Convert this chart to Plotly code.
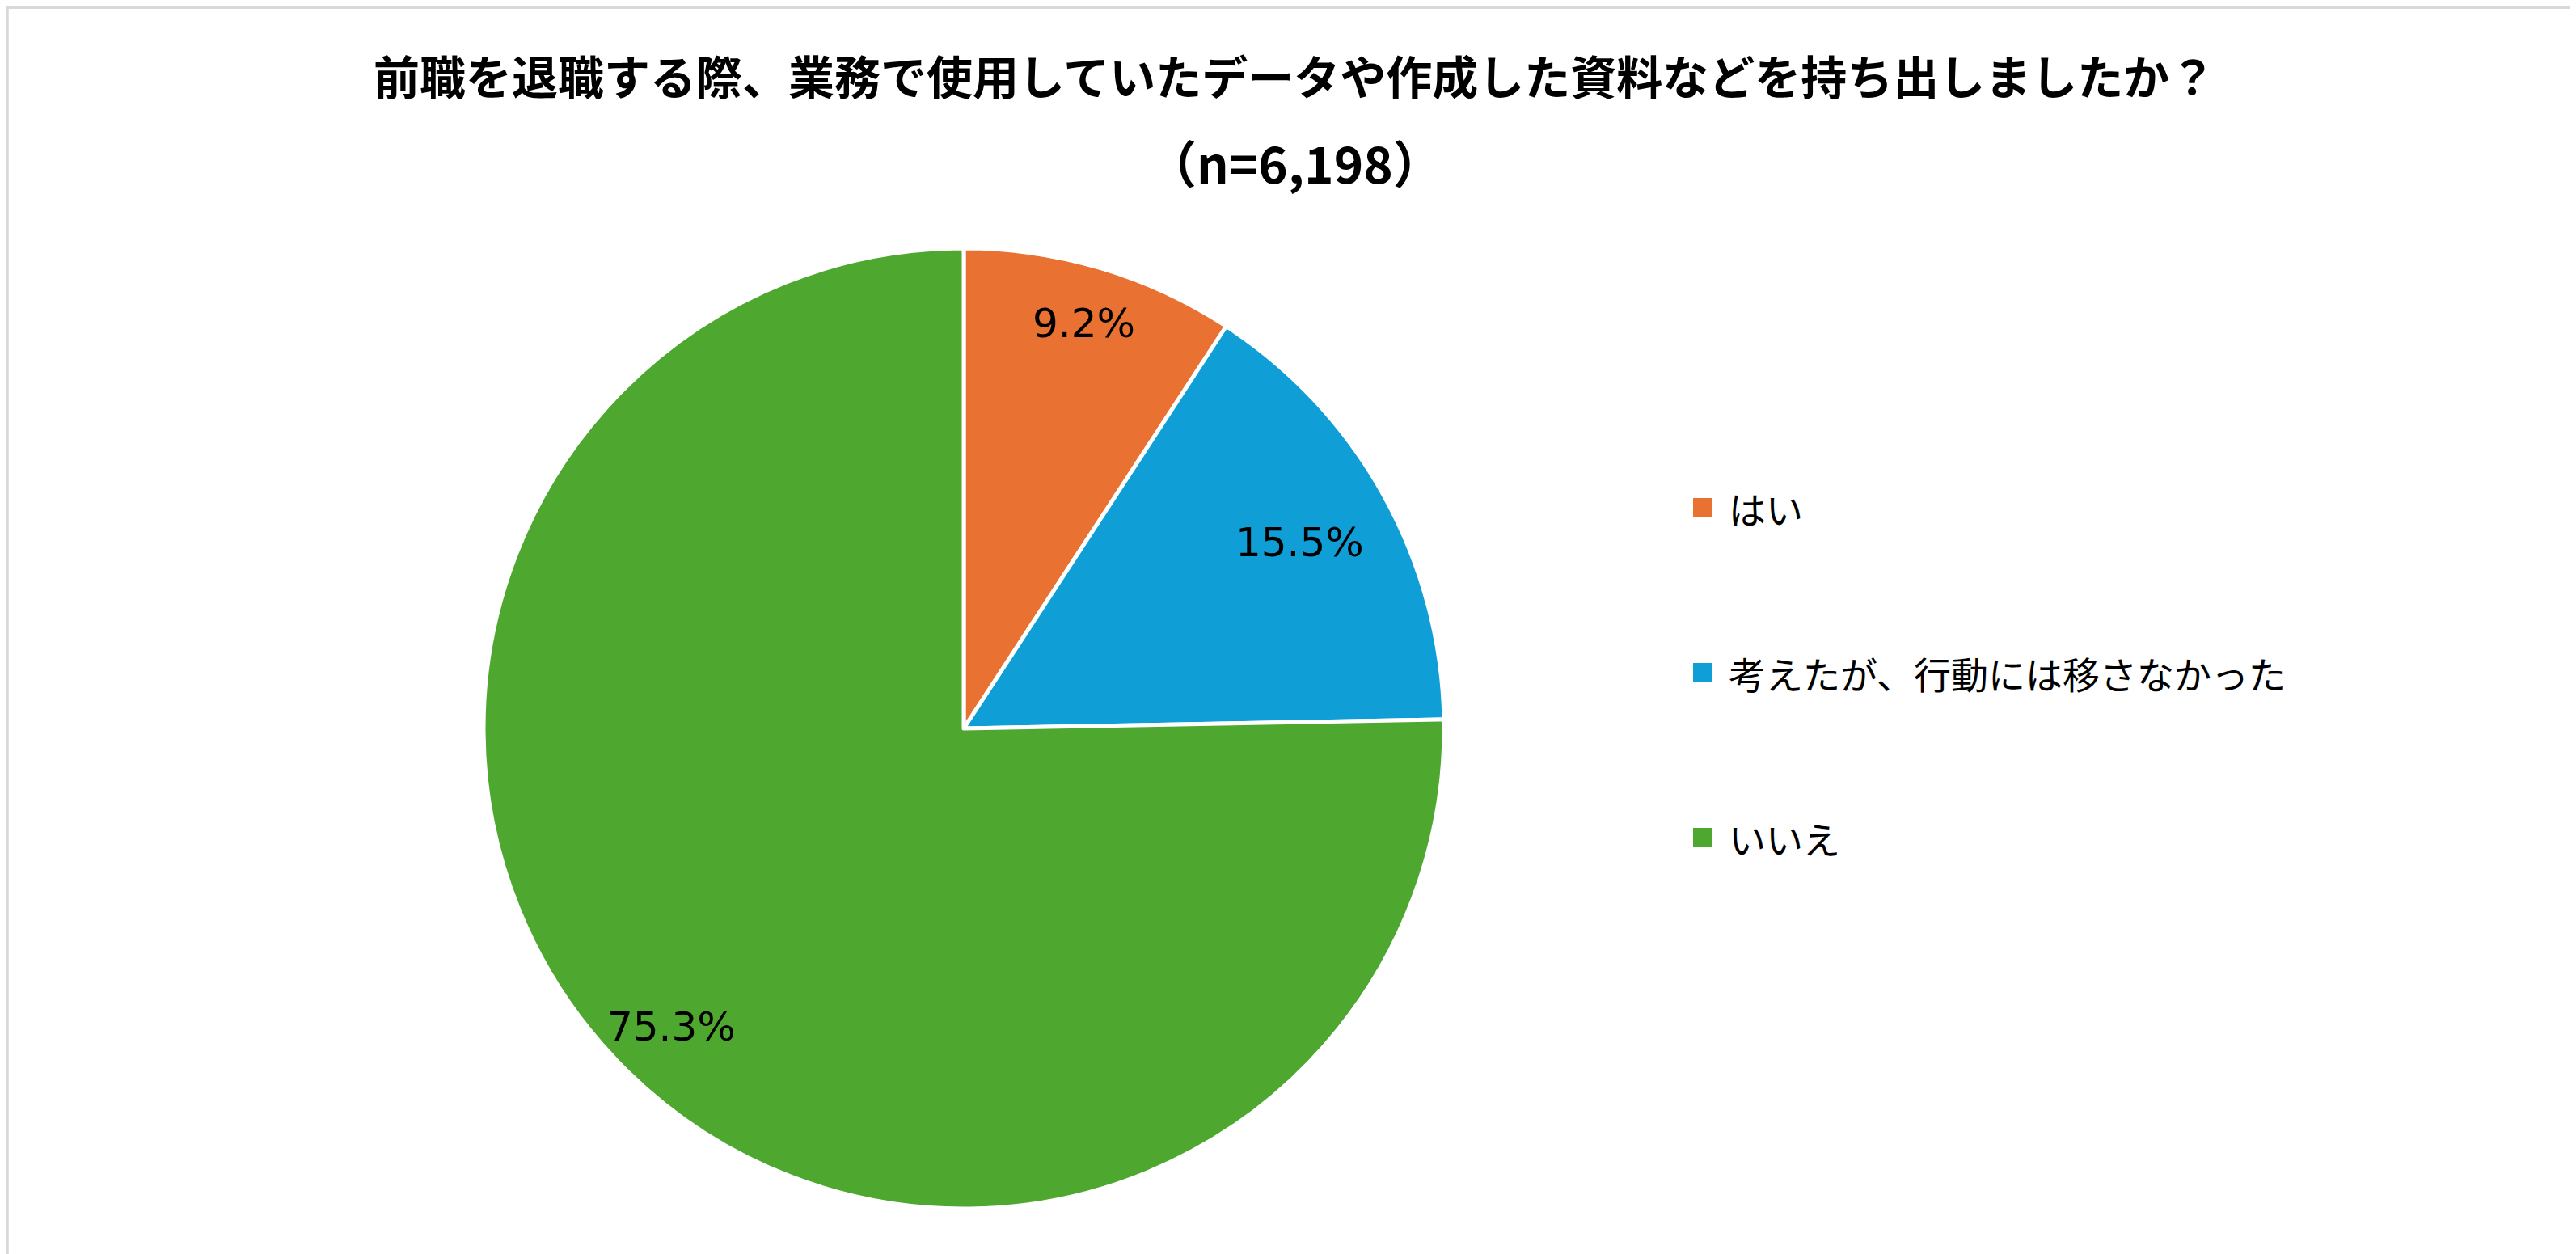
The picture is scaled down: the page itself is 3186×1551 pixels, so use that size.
import math
import plotly.graph_objects as go

# data
labels = ["はい", "考えたが、行動には移さなかった", "いいえ"]
values = [9.2, 15.5, 75.3]
colors = ["#E97132", "#0F9ED5", "#4EA72E"]
title_line1 = "前職を退職する際、業務で使用していたデータや作成した資料などを持ち出しましたか？"
title_line2 = "（n=6,198）"

# layout (pixels of the 3186x1551 page)
W, H = 3186, 1551
cx, cy, R = 1184, 893, 594
label_r = [0.88, 0.80, 0.87]
legend_x, legend_rows = 2098, [620, 824, 1028]
sq = 24

fig = go.Figure(
    go.Pie(
        labels=labels,
        values=values,
        sort=False,
        direction="clockwise",
        rotation=0,
        marker=dict(colors=colors, line=dict(color="white", width=5)),
        textinfo="none",
        hoverinfo="label+percent",
        showlegend=False,
        domain=dict(
            x=[(cx - R) / W, (cx + R) / W],
            y=[(H - cy - R) / H, (H - cy + R) / H],
        ),
    )
)

annotations = []
shapes = []

# percentage labels, placed at the middle angle of each slice
total = sum(values)
cum = 0
for v, f in zip(values, label_r):
    theta = 2 * math.pi * (cum + v / 2) / total
    cum += v
    px = cx + f * R * math.sin(theta)
    py = cy - f * R * math.cos(theta)
    annotations.append(dict(
        x=px / W, y=1 - py / H, xref="paper", yref="paper",
        text=f"{v:.1f}%", showarrow=False,
        xanchor="center", yanchor="middle",
        font=dict(family="DejaVu Sans", size=50, color="#000000"),
    ))

# title
annotations.append(dict(
    x=0.5, y=1 - 84 / H, xref="paper", yref="paper", text=title_line1,
    showarrow=False, xanchor="center", yanchor="middle",
    font=dict(family="Noto Sans CJK JP", size=57, color="#000000", weight="bold"),
))
annotations.append(dict(
    x=0.5, y=1 - 192 / H, xref="paper", yref="paper", text=title_line2,
    showarrow=False, xanchor="center", yanchor="middle",
    font=dict(family="Noto Sans CJK JP", size=62, color="#000000", weight="bold"),
))

# legend
for lab, col, ry in zip(labels, colors, legend_rows):
    shapes.append(dict(
        type="rect", xref="paper", yref="paper",
        x0=(legend_x - sq / 2) / W, x1=(legend_x + sq / 2) / W,
        y0=1 - (ry + sq / 2) / H, y1=1 - (ry - sq / 2) / H,
        fillcolor=col, line=dict(width=0),
    ))
    annotations.append(dict(
        x=(legend_x + 30) / W, y=1 - ry / H, xref="paper", yref="paper",
        text=lab, showarrow=False, xanchor="left", yanchor="middle",
        font=dict(family="Noto Sans CJK JP", size=46, color="#000000"),
    ))

# outer frame
shapes.append(dict(
    type="rect", xref="paper", yref="paper",
    x0=0.0004, x1=0.9996, y0=0.001, y1=0.999,
    line=dict(color="#D9D9D9", width=3), fillcolor="rgba(0,0,0,0)",
))

fig.update_layout(
    width=W, height=H,
    margin=dict(l=0, r=0, t=0, b=0),
    paper_bgcolor="white",
    plot_bgcolor="white",
    annotations=annotations,
    shapes=shapes,
)

fig.write_html("out.html")
